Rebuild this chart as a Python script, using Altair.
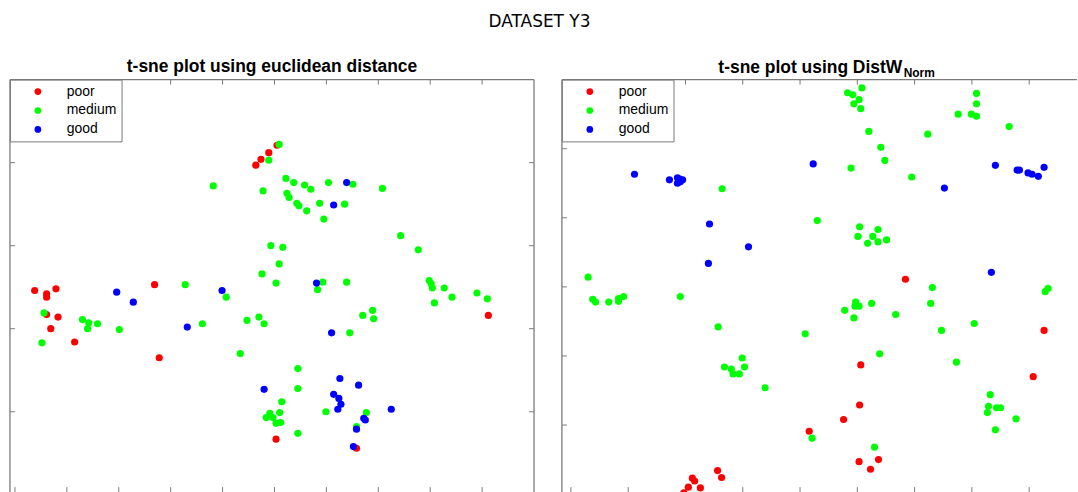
import altair as alt
import pandas as pd

classes = ["poor", "medium", "good"]
colors = ["#ff0000", "#00ff00", "#0000ff"]
FRAME = "#7a7a7a"

# ---- Panel 1: t-sne using euclidean distance ----
e_poor_x = [-36.2, -33.9, -33.9, -32.1, -33.9, -31.7, -33.1, -28.5, -13.1, -12.2, 6.4, 7.4, 8.9, 10.5, 51.2, 10.3, 25.8]
e_poor_y = [-5.4, -5.8, -6.2, -5.2, -8.3, -8.6, -10.0, -11.6, -4.7, -13.5, 9.7, 10.4, 11.2, 12.1, -8.4, -23.3, -24.4]

e_med_x = [10.9, 8.9, -1.8, 7.8, 12.2, 13.7, 15.8, 17.0, 20.4, 25.1,
           30.8, 12.4, 12.8, 14.3, 14.7, 16.2, 18.7, 23.5, 19.5, 34.3,
           37.7, 9.3, 11.6, 10.9, 7.6, 10.3, 19.3, 18.3, 23.9, 39.8,
           40.2, 40.4, 42.7, 44.2, 40.8, 49.0, 51.0, -34.4, -34.8, -27.0,
           -25.8, -26.0, -24.1, -19.9, -7.2, -3.9, 0.7, 4.7, 7.0, 8.0,
           3.4, 27.0, 28.9, 29.1, 24.5, 14.5, 14.5, 11.4, 11.0, 9.1,
           8.4, 9.7, 10.3, 11.2, 14.5, 19.9, 27.7, 25.8]
e_med_y = [12.2, 10.3, 7.2, 6.6, 8.1, 7.6, 7.3, 6.8, 7.6, 7.4,
           6.9, 6.3, 5.8, 5.1, 4.8, 4.2, 5.1, 5.0, 3.2, 1.2,
           -0.5, 0.0, -0.2, -2.2, -3.4, -4.5, -4.4, -5.3, -4.4, -4.2,
           -4.6, -5.1, -5.1, -6.2, -6.9, -5.7, -6.4, -8.1, -11.7, -8.9,
           -9.3, -10.0, -9.4, -10.1, -4.7, -9.4, -6.2, -9.0, -8.6, -9.4,
           -13.0, -8.4, -7.8, -8.8, -10.5, -14.8, -17.2, -18.8, -20.1, -20.2,
           -20.7, -20.7, -21.4, -21.3, -22.6, -20.0, -20.1, -21.8]

e_good_x = [-20.4, -17.2, -6.8, -0.1, 23.9, 21.4, 18.1, 21.0, 8.0, 22.6,
            26.2, 21.4, 22.4, 22.8, 22.2, 32.5, 27.2, 27.5, 25.8, 25.2]
e_good_y = [-5.6, -6.8, -9.8, -5.4, 7.6, 4.9, -4.5, -10.5, -17.3, -16.0,
            -16.8, -17.9, -18.4, -19.1, -19.7, -19.7, -20.8, -21.0, -22.1, -24.2]

e_xdomain = [-40.96, 60.0]
e_ydomain = [-29.68, 20.0]
e_xticks = [-40, -30, -20, -10, 0, 10, 20, 30, 40, 50]
e_yticks = [-20, -10, 0, 10]

# ---- Panel 2: t-sne using DistW_Norm ----
d_poor_x = [38.4, 21.6, 5.6, 6.3, 1.2, 1.6, 0.5, 2.6, -0.3, 62.6, 30.6, 60.7, 30.4, 27.6, 30.3, 33.7, 32.3]
d_poor_y = [1.1, -20.9, -26.6, -27.6, -27.7, -28.1, -29.0, -29.1, -29.8, -6.3, -11.3, -13.0, -17.1, -19.2, -25.3, -25.0, -26.4]

d_med_x = [30.8, 28.3, 29.2, 30.3, 29.4, 30.6, 50.8, 50.8, 47.6, 49.9,
           50.8, 56.5, 32.0, 42.3, 34.1, 34.8, 28.9, 39.5, 6.4, 23.0,
           30.4, 33.6, 30.1, 32.7, 31.8, 33.6, 35.1, -17.0, -16.2, -15.7,
           -13.4, -11.7, -11.7, -10.8, -0.9, 5.7, 20.9, 6.8, 8.0, 8.3,
           9.4, 9.9, 10.3, 13.9, 22.1, 43.1, 42.8, 62.8, 63.3, 27.8,
           29.7, 29.6, 30.3, 32.5, 29.4, 36.7, 44.7, 50.4, 33.9, 47.3,
           53.2, 52.9, 52.7, 54.3, 55.0, 57.7, 54.1, 33.0]
d_med_y = [28.8, 28.1, 27.8, 27.1, 26.5, 25.8, 28.0, 26.5, 25.0, 25.0,
           24.7, 23.2, 22.5, 22.1, 20.2, 18.3, 17.2, 15.9, 14.2, 9.6,
           8.7, 8.3, 7.3, 7.3, 6.3, 6.5, 6.8, 1.4, -1.8, -2.2,
           -2.2, -2.1, -1.7, -1.4, -1.4, -5.8, -6.8, -11.6, -11.9, -12.6,
           -12.6, -10.3, -11.6, -14.6, -21.9, -0.1, -2.4, -0.7, -0.2, -3.4,
           -2.2, -2.8, -2.8, -2.4, -4.5, -4.0, -6.3, -5.3, -9.7, -10.9,
           -15.6, -17.3, -18.2, -17.5, -17.5, -19.1, -20.7, -23.2]

d_good_x = [-8.9, -2.8, -1.4, -1.0, -0.5, -1.4, -0.9, 22.3, 4.2, 11.0,
            4.0, 54.1, 57.9, 58.3, 59.8, 60.5, 61.6, 62.6, 45.2, 53.4]
d_good_y = [16.3, 15.5, 15.8, 15.6, 15.5, 15.0, 15.2, 17.8, 9.1, 5.8,
            3.4, 17.6, 16.9, 16.9, 16.5, 16.3, 16.0, 17.3, 14.3, 2.1]

d_xdomain = [-21.57, 68.35]
d_ydomain = [-29.71, 30.0]
d_xticks = [-20, -10, 0, 10, 20, 30, 40, 50, 60]
d_yticks = [-20, -10, 0, 10, 20]


def points_df(px, py, mx, my, gx, gy):
    parts = []
    for c, xs, ys in [("poor", px, py), ("medium", mx, my), ("good", gx, gy)]:
        parts.append(pd.DataFrame({"x": xs, "y": ys, "cls": c}))
    df = pd.concat(parts, ignore_index=True)
    df["ord"] = range(len(df))
    return df


def panel(df, xdom, ydom, xticks, yticks, W, H, title, right_edge, extra=None):
    xs = alt.Scale(domain=xdom, nice=False, zero=False)
    ys = alt.Scale(domain=ydom, nice=False, zero=False)
    legend = alt.Legend(
        title=None, orient="top-left", offset=0, padding=5,
        fillColor="white", strokeColor=FRAME, cornerRadius=0,
        symbolType="circle", symbolSize=45, symbolStrokeWidth=0,
        symbolOffset=16, labelOffset=22, rowPadding=5,
        labelFontSize=14, labelFont="Liberation Sans", labelColor="black",
        labelExpr="datum.label + ' '",
    )
    pts = alt.Chart(df).mark_circle(size=52, opacity=1).encode(
        x=alt.X("x:Q", scale=xs, axis=None),
        y=alt.Y("y:Q", scale=ys, axis=None),
        color=alt.Color("cls:N", scale=alt.Scale(domain=classes, range=colors), legend=legend),
        order=alt.Order("ord:Q"),
    )
    xt = pd.DataFrame({"v": xticks})
    yt = pd.DataFrame({"v": yticks})
    tl = 5
    top = alt.Chart(xt).mark_rule(color=FRAME, strokeWidth=1).encode(
        x=alt.X("v:Q", scale=xs, axis=None), y=alt.value(0), y2=alt.value(tl))
    bot = alt.Chart(xt).mark_rule(color=FRAME, strokeWidth=1).encode(
        x=alt.X("v:Q", scale=xs, axis=None), y=alt.value(H - tl), y2=alt.value(H))
    lft = alt.Chart(yt).mark_rule(color=FRAME, strokeWidth=1).encode(
        y=alt.Y("v:Q", scale=ys, axis=None), x=alt.value(0), x2=alt.value(tl))
    one = pd.DataFrame({"a": [0]})
    frame_top = alt.Chart(one).mark_rule(color=FRAME, strokeWidth=1.3).encode(
        x=alt.value(0), x2=alt.value(W), y=alt.value(0))
    frame_left = alt.Chart(one).mark_rule(color=FRAME, strokeWidth=1.3).encode(
        x=alt.value(0), y=alt.value(0), y2=alt.value(H))
    layers = [top, bot, lft, frame_top, frame_left]
    if right_edge:
        rgt = alt.Chart(yt).mark_rule(color=FRAME, strokeWidth=1).encode(
            y=alt.Y("v:Q", scale=ys, axis=None), x=alt.value(W - tl), x2=alt.value(W))
        frame_right = alt.Chart(one).mark_rule(color=FRAME, strokeWidth=1.3).encode(
            x=alt.value(W), y=alt.value(0), y2=alt.value(H))
        layers += [rgt, frame_right]
    if extra is not None:
        layers.append(extra)
    layers.append(pts)
    return alt.layer(*layers).properties(width=W, height=H, title=title)


H = 414
df_e = points_df(e_poor_x, e_poor_y, e_med_x, e_med_y, e_good_x, e_good_y)
df_d = points_df(d_poor_x, d_poor_y, d_med_x, d_med_y, d_good_x, d_good_y)

title_left = alt.Title("t-sne plot using euclidean distance", anchor="middle", frame="group",
                       fontSize=17.5, font="Liberation Sans", fontWeight="bold",
                       color="black", offset=4)
title_right = alt.Title("t-sne plot using DistW", anchor="start", dx=157, frame="group",
                        fontSize=17.5, font="Liberation Sans", fontWeight="bold",
                        color="black", offset=-10)

sub = alt.Chart(pd.DataFrame({"t": ["Norm"]})).mark_text(
    align="left", baseline="alphabetic", fontSize=12, font="Liberation Sans",
    fontWeight="bold", color="black").encode(
    text="t:N", x=alt.value(343), y=alt.value(-3))

left = panel(df_e, e_xdomain, e_ydomain, e_xticks, e_yticks, 526, H, title_left, True)
right = panel(df_d, d_xdomain, d_ydomain, d_xticks, d_yticks, 517, H, title_right, False, extra=sub)

chart = alt.hconcat(
    left, right, spacing=26,
    title=alt.Title("DATASET Y3", anchor="middle", fontSize=17, font="DejaVu Sans",
                    fontWeight="normal", color="black", offset=27, dx=-4),
).resolve_scale(color="independent").resolve_legend(color="independent").properties(
    padding={"left": 9, "top": 11, "right": 0, "bottom": 0},
    background="white",
).configure_view(stroke=None)

chart.save("out.html", embed_options={"renderer": "svg", "actions": False})
